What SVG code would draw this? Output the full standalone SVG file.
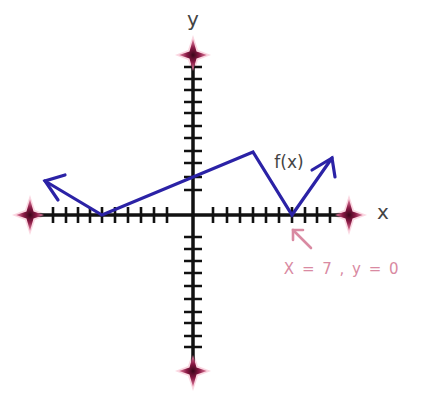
<svg xmlns="http://www.w3.org/2000/svg" width="436" height="403" viewBox="0 0 436 403">
<defs>
<radialGradient id="sg" cx="50%" cy="50%" r="50%">
<stop offset="0" stop-color="#3a0418"/>
<stop offset="0.45" stop-color="#8a1a45"/>
<stop offset="1" stop-color="#e889a8"/>
</radialGradient>
<path id="glow" d="M0,-20 L5,-5 L18,0 L5,5 L0,20 L-5,5 L-18,0 L-5,-5 Z" fill="#f5b6c8" opacity="0.55"/>
<path id="star" d="M0,-16 L3.5,-3.5 L14,0 L3.5,3.5 L0,16 L-3.5,3.5 L-14,0 L-3.5,-3.5 Z" fill="url(#sg)"/>
</defs>
<style>
.axis{stroke:#111;stroke-width:3.5;fill:none}
.tick{stroke:#111;stroke-width:2.6}
.fn{stroke:#2b22a6;stroke-width:3.2;fill:none;stroke-linejoin:miter;stroke-linecap:round}
.lbl{font-family:"DejaVu Sans","Liberation Sans",sans-serif;fill:#444}
.pink{stroke:#d98aa2;stroke-width:2.6;fill:none;stroke-linecap:round}
</style>
<rect width="436" height="403" fill="#fff"/>
<g id="axes">
<use href="#glow" x="30" y="215"/>
<use href="#glow" x="349" y="215"/>
<use href="#glow" x="193" y="55"/>
<use href="#glow" x="193" y="371"/>
<line class="axis" x1="30" y1="215" x2="349" y2="215"/>
<line class="axis" x1="193" y1="56" x2="193" y2="370"/>
<g class="tick">
<path d="M53,207v16M66,207v16M78,207v16M90,207v16M102,207v16M115,207v16M128,207v16M141,207v16M154,207v16M167,207v16M213,207v16M227,207v16M240,207v16M253,207v16M266,207v16M279,207v16M292,207v16M305,207v16M317,207v16M330,207v16"/>
<path d="M184,67h18M184,79h18M184,90h18M184,102h18M184,113h18M184,126h18M184,138h18M184,151h18M184,163h18M184,177h18M184,190h18M184,237h18M184,249h18M184,261h18M184,273h18M184,286h18M184,299h18M184,312h18M184,323h18M184,336h18M184,347h18"/>
</g>
<use href="#star" x="30" y="215"/>
<use href="#star" x="349" y="215"/>
<use href="#star" x="193" y="55"/>
<use href="#star" x="193" y="371"/>
</g>
<g id="labels">
<text class="lbl" x="193" y="26" font-size="20" text-anchor="middle">y</text>
<text class="lbl" x="383" y="219" font-size="20" text-anchor="middle">x</text>
<text class="lbl" x="289" y="168" font-size="17" text-anchor="middle">f(x)</text>
<text class="lbl" x="342" y="274" font-size="15" text-anchor="middle" style="fill:#d98aa2" letter-spacing="1.5">X = 7 , y = 0</text>
</g>
<g id="connectors">
<polyline class="fn" points="45,181 102,215 253,152 292,215 332,158"/>
<polyline class="fn" points="65,175 45,181 58,200"/>
<polyline class="fn" points="312,170 332,158 335,177"/>
<line class="pink" x1="311" y1="248" x2="293" y2="230"/>
<polyline class="pink" points="293,240 293,230 303,230"/>
</g>
</svg>
